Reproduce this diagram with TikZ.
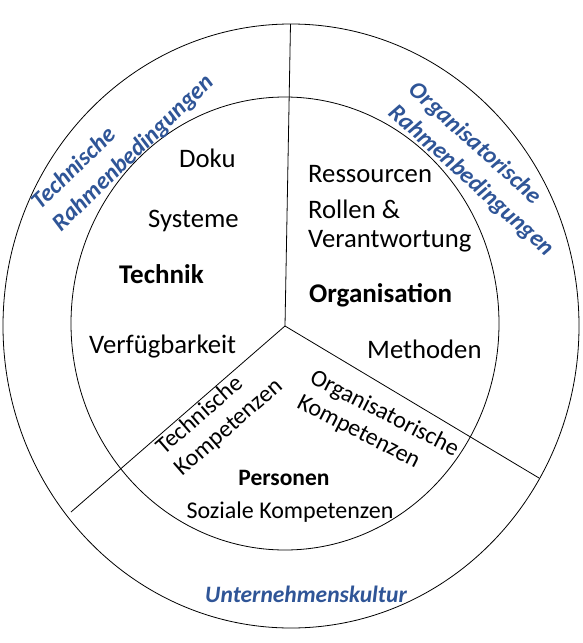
\documentclass[tikz,border=0pt]{standalone}
\usepackage{fontspec}
\setmainfont{Carlito}
\usepackage{tikz}
\usetikzlibrary{positioning,shapes}
\definecolor{rbblue}{RGB}{47,85,151}
\tikzset{
  ring/.style={draw,ellipse,inner sep=0pt,line width=0.8pt},
  spoke/.style={line width=0.8pt},
  item/.style={inner sep=0pt,anchor=base west,font=\fontsize{26.7}{29}\selectfont},
  head/.style={inner sep=0pt,anchor=base west,font=\fontsize{27}{29}\selectfont\bfseries},
  frame/.style={inner sep=0pt,align=left,anchor=west,text=rbblue,font=\fontsize{24}{30}\selectfont\bfseries\itshape},
  skill/.style={inner sep=0pt,align=left,anchor=west,font=\fontsize{24}{28}\selectfont},
}
\begin{document}
\begin{tikzpicture}[x=1pt,y=-1pt]
  \useasboundingbox (0,0) rectangle (582,643);
  \node[ring,minimum width=576pt,minimum height=604pt] (outer) at (291,326) {};
  \node[ring,minimum width=428pt,minimum height=453pt] (inner) at (285,323.5) {};
  \coordinate (hub) at (285,326);
  \coordinate (topend) at (290.5,24);
  \coordinate (leftend) at (71,512);
  \coordinate (rightend) at (539,478);
  \draw[spoke] (hub) -- (topend);
  \draw[spoke] (hub) -- (leftend);
  \draw[spoke] (hub) -- (rightend);

  \node[item] (doku) at (179,167) {Doku};
  \node[item] (systeme) at (148,227) {Systeme};
  \node[head] (technik) at (119,283) {Technik};
  \node[item] (verfueg) at (89,353) {Verfügbarkeit};

  \node[item] (ressourcen) at (308,182) {Ressourcen};
  \node[item] (rollen) at (308,218) {Rollen \&};
  \node[item] (verantw) at (308,247) {Verantwortung};
  \node[head] (organisation) at (309,302) {Organisation};
  \node[item] (methoden) at (367,358) {Methoden};

  \node[skill,rotate=41] (techkomp) at (169,461) {Technische\\Kompetenzen};
  \node[skill,rotate=-27] (orgkomp) at (305,389) {Organisatorische\\Kompetenzen};
  \node[inner sep=0pt,anchor=base,font=\fontsize{23.5}{28}\selectfont\bfseries] (personen) at (284,485) {Personen};
  \node[inner sep=0pt,anchor=base,font=\fontsize{24}{28}\selectfont] (sozial) at (290,518) {Soziale Kompetenzen};

  \node[frame,rotate=44] (techrahmen) at (46,217) {Technische\\Rahmenbedingungen};
  \node[frame,rotate=-42] (orgrahmen) at (402,98) {Organisatorische\\Rahmenbedingungen};
  \node[inner sep=0pt,anchor=base,text=rbblue,font=\fontsize{23.5}{28}\selectfont\bfseries\itshape] (kultur) at (306,602) {Unternehmenskultur};
\end{tikzpicture}
\end{document}
